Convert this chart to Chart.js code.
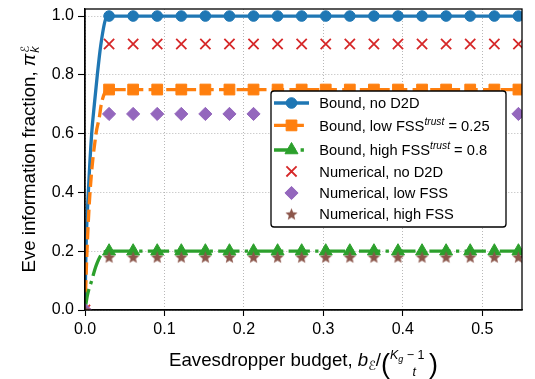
<!DOCTYPE html>
<html>
<head>
<meta charset="utf-8">
<script src="https://cdn.jsdelivr.net/npm/chart.js@4.4.1/dist/chart.umd.min.js"></script>
<style>
  html, body { margin: 0; padding: 0; background: #fff; }
  #chart { display: block; }
</style>
</head>
<body>
<canvas id="chart" width="535" height="379"></canvas>
<script>
// budget values where markers are placed
const markerX = [0.0303, 0.0606, 0.0909, 0.1212, 0.1515, 0.1818, 0.2121, 0.2424, 0.2727,
                 0.3030, 0.3333, 0.3636, 0.3939, 0.4242, 0.4545, 0.4848, 0.5152, 0.5455];

// analytical bounds on the plateau
const boundNoD2D   = [1.0, 1.0, 1.0, 1.0, 1.0, 1.0, 1.0, 1.0, 1.0, 1.0, 1.0, 1.0, 1.0, 1.0, 1.0, 1.0, 1.0, 1.0];
const boundLowFSS  = [0.75, 0.75, 0.75, 0.75, 0.75, 0.75, 0.75, 0.75, 0.75, 0.75, 0.75, 0.75, 0.75, 0.75, 0.75, 0.75, 0.75, 0.75];
const boundHighFSS = [0.2, 0.2, 0.2, 0.2, 0.2, 0.2, 0.2, 0.2, 0.2, 0.2, 0.2, 0.2, 0.2, 0.2, 0.2, 0.2, 0.2, 0.2];

// the steep rise of each bound for very small budgets
const riseNoD2DX = [0, 0.0012, 0.0042, 0.0084, 0.0118, 0.0155, 0.0198, 0.026];
const riseNoD2DY = [0, 0.2, 0.4, 0.6, 0.7, 0.8, 0.9, 0.99];
const riseLowX   = [0, 0.0025, 0.0063, 0.0139, 0.018, 0.0205, 0.025];
const riseLowY   = [0, 0.2, 0.4, 0.6, 0.655, 0.7, 0.74];
const riseHighX  = [0, 0.003, 0.0084, 0.0139, 0.021];
const riseHighY  = [0, 0.05, 0.1, 0.15, 0.19];

// simulated values (first point is zero budget)
const numericalX = [0].concat(markerX);
const numNoD2D   = [0, 0.905, 0.905, 0.905, 0.905, 0.905, 0.905, 0.905, 0.905, 0.905, 0.905, 0.905, 0.905, 0.905, 0.905, 0.905, 0.905, 0.905, 0.905];
const numLowFSS  = [0, 0.667, 0.667, 0.667, 0.667, 0.667, 0.667, 0.667, 0.667, 0.667, 0.667, 0.667, 0.667, 0.667, 0.667, 0.667, 0.667, 0.667, 0.667];
const numHighFSS = [0, 0.18, 0.18, 0.18, 0.18, 0.18, 0.18, 0.18, 0.18, 0.18, 0.18, 0.18, 0.18, 0.18, 0.18, 0.18, 0.18, 0.18, 0.18];

const xTicks = [0, 0.1, 0.2, 0.3, 0.4, 0.5];
const yTicks = [0, 0.2, 0.4, 0.6, 0.8, 1.0];

const FAMILY = '"Liberation Sans", Arial, "DejaVu Sans", sans-serif';
const BLUE = '#1f77b4', ORANGE = '#ff7f0e', GREEN = '#2ca02c';
const RED = '#d62728', PURPLE = '#9467bd', BROWN = '#8c564b';

function points(xs, ys) {
  return xs.map((x, i) => ({ x: x, y: ys[i] }));
}
function boundData(riseX, riseY, plateau) {
  return points(riseX, riseY).concat(points(markerX, plateau));
}
// no markers on the rise, markers on the plateau
function boundRadii(riseX, r) {
  return riseX.map(() => 0).concat(markerX.map(() => r));
}

// filled five-pointed star used as a point style
function starImage(color, rOut, rIn) {
  const size = Math.ceil(rOut * 2) + 2;
  const c = document.createElement('canvas');
  c.width = size; c.height = size;
  const g = c.getContext('2d');
  g.translate(size / 2, size / 2 + rOut * 0.1);
  g.beginPath();
  for (let i = 0; i < 10; i++) {
    const r = i % 2 ? rIn : rOut;
    const a = -Math.PI / 2 + i * Math.PI / 5;
    g.lineTo(r * Math.cos(a), r * Math.sin(a));
  }
  g.closePath();
  g.fillStyle = color;
  g.fill();
  return c;
}
const star = starImage(BROWN, 6.4, 2.8);

const lw = 3.3;
const datasets = [
  {
    label: 'Bound, no D2D',
    data: boundData(riseNoD2DX, riseNoD2DY, boundNoD2D),
    borderColor: BLUE, borderWidth: lw,
    pointStyle: 'circle', pointRadius: boundRadii(riseNoD2DX, 5.3),
    pointBackgroundColor: BLUE, pointBorderColor: BLUE, pointBorderWidth: 1,
    order: 6
  },
  {
    label: 'Bound, low FSS^{trust} = 0.25',
    data: boundData(riseLowX, riseLowY, boundLowFSS),
    borderColor: ORANGE, borderWidth: lw, borderDash: [12.3, 5.3],
    pointStyle: 'rect', pointRadius: boundRadii(riseLowX, 7.6),
    pointBackgroundColor: ORANGE, pointBorderColor: ORANGE, pointBorderWidth: 1,
    order: 5
  },
  {
    label: 'Bound, high FSS^{trust} = 0.8',
    data: boundData(riseHighX, riseHighY, boundHighFSS),
    borderColor: GREEN, borderWidth: lw, borderDash: [21.3, 5.3, 3.3, 5.3],
    pointStyle: 'triangle', pointRadius: boundRadii(riseHighX, 7.5),
    pointBackgroundColor: GREEN, pointBorderColor: GREEN, pointBorderWidth: 1,
    order: 4
  },
  {
    label: 'Numerical, no D2D',
    data: points(numericalX, numNoD2D),
    showLine: false,
    pointStyle: 'crossRot', pointRadius: 7.2,
    pointBorderColor: RED, pointBackgroundColor: RED, pointBorderWidth: 1.8,
    order: 3
  },
  {
    label: 'Numerical, low FSS',
    data: points(numericalX, numLowFSS),
    showLine: false,
    pointStyle: 'rectRot', pointRadius: 6.6,
    pointBorderColor: PURPLE, pointBackgroundColor: PURPLE, pointBorderWidth: 1,
    order: 2
  },
  {
    label: 'Numerical, high FSS',
    data: points(numericalX, numHighFSS),
    showLine: false,
    pointStyle: star, pointRadius: 6,
    pointBorderColor: BROWN, pointBackgroundColor: BROWN, pointBorderWidth: 0,
    order: 1
  }
];
datasets.forEach(d => {
  d.clip = 0;
  d.fill = false;
  d.cubicInterpolationMode = 'monotone';
  d.pointHoverRadius = d.pointRadius;
});

// ---- text helpers: runs of text with their own size, style and shift ----
function fontOf(r) {
  return (r.italic ? 'italic ' : '') + r.size + 'px ' + FAMILY;
}
function runsWidth(ctx, runs) {
  let w = 0;
  runs.forEach(r => {
    ctx.font = fontOf(r);
    if (r.advance !== false) w += ctx.measureText(r.t).width + (r.dx || 0);
  });
  return w;
}
function drawRuns(ctx, runs, x, y) {
  let cx = x;
  runs.forEach(r => {
    ctx.font = fontOf(r);
    ctx.fillText(r.t, cx + (r.dx || 0), y + (r.dy || 0));
    if (r.advance !== false) cx += ctx.measureText(r.t).width + (r.dx || 0);
  });
}
// "FSS^{trust}" -> normal run + italic superscript run
function labelRuns(label, size) {
  const runs = [];
  const re = /\^\{([^}]*)\}/g;
  let last = 0, m;
  while ((m = re.exec(label))) {
    if (m.index > last) runs.push({ t: label.slice(last, m.index), size: size });
    runs.push({ t: m[1], size: size * 0.7, italic: true, dy: -6 });
    last = re.lastIndex;
  }
  if (last < label.length) runs.push({ t: label.slice(last), size: size });
  return runs;
}

const LABEL = 18.67;
const xTitle = [
  { t: 'Eavesdropper budget, ', size: LABEL },
  { t: 'b', size: LABEL, italic: true },
  { t: 'ℰ', size: 12.5, dy: 4 },
  { t: '/', size: LABEL },
  { t: '(', size: 27, dy: 7 },
  { t: 'K', size: 12.5, italic: true, dy: -7 },
  { t: 'g', size: 9, italic: true, dy: -4 },
  { t: ' − 1', size: 12.5, dy: -7 },
  { t: 't', size: 12.5, italic: true, dy: 10, dx: -12, advance: false },
  { t: ' )', size: 27, dy: 7, dx: -3 }
];
const yTitle = [
  { t: 'Eve information fraction, ', size: LABEL },
  { t: 'π', size: LABEL, italic: true },
  { t: 'ℰ', size: 11.5, dy: -6, dx: 1, advance: false },
  { t: 'k', size: 12.5, italic: true, dy: 4, dx: 1 }
];

const legendRows = [108.3, 130.7, 155.3, 176.7, 198.3, 219.3];

const figureText = {
  id: 'figureText',
  afterDatasetsDraw(chart) {
    const { ctx, chartArea: a } = chart;
    ctx.save();
    ctx.strokeStyle = '#000';
    ctx.lineWidth = 1.3;
    ctx.strokeRect(a.left, a.top, a.right - a.left, a.bottom - a.top);
    ctx.restore();
  },
  afterDraw(chart) {
    const { ctx, chartArea: a } = chart;
    ctx.save();
    ctx.fillStyle = '#000';
    ctx.textBaseline = 'alphabetic';
    ctx.textAlign = 'left';

    // x axis title, centred under the plot
    const xw = runsWidth(ctx, xTitle);
    drawRuns(ctx, xTitle, (a.left + a.right) / 2 - xw / 2, 366);

    // y axis title, rotated
    ctx.save();
    ctx.translate(35, (a.top + a.bottom) / 2);
    ctx.rotate(-Math.PI / 2);
    const yw = runsWidth(ctx, yTitle);
    drawRuns(ctx, yTitle, -yw / 2, 0);
    ctx.restore();

    // legend box
    const bx = 271, by = 91, bw = 235, bh = 136, rad = 3;
    ctx.beginPath();
    ctx.moveTo(bx + rad, by);
    ctx.arcTo(bx + bw, by, bx + bw, by + bh, rad);
    ctx.arcTo(bx + bw, by + bh, bx, by + bh, rad);
    ctx.arcTo(bx, by + bh, bx, by, rad);
    ctx.arcTo(bx, by, bx + bw, by, rad);
    ctx.closePath();
    ctx.fillStyle = '#fff';
    ctx.fill();
    ctx.strokeStyle = '#000';
    ctx.lineWidth = 1.3;
    ctx.stroke();

    chart.data.datasets.forEach((ds, i) => {
      const base = legendRows[i];
      const cy = base - 5.3;
      if (ds.showLine !== false) {
        ctx.save();
        ctx.strokeStyle = ds.borderColor;
        ctx.lineWidth = ds.borderWidth;
        ctx.setLineDash(ds.borderDash || []);
        ctx.beginPath();
        ctx.moveTo(274, cy);
        ctx.lineTo(309, cy);
        ctx.stroke();
        ctx.restore();
      }
      const r = Array.isArray(ds.pointRadius) ? ds.pointRadius[ds.pointRadius.length - 1] : ds.pointRadius;
      ctx.save();
      ctx.fillStyle = ds.pointBackgroundColor;
      ctx.strokeStyle = ds.pointBorderColor;
      ctx.lineWidth = ds.pointBorderWidth;
      Chart.helpers.drawPoint(ctx, {
        pointStyle: ds.pointStyle, radius: r, rotation: 0, borderWidth: ds.pointBorderWidth
      }, 291.5, cy);
      ctx.restore();
      ctx.fillStyle = '#000';
      drawRuns(ctx, labelRuns(ds.label, 14.67), 319.3, base);
    });
    ctx.restore();
  }
};

// keep the plot box fixed: no extra room for half tick labels
function fixPadding(s) {
  s.paddingTop = 0; s.paddingBottom = 0;
  s.paddingLeft = 0; s.paddingRight = 0;
}

new Chart(document.getElementById('chart'), {
  type: 'line',
  data: { datasets: datasets },
  plugins: [figureText],
  options: {
    responsive: false,
    animation: false,
    devicePixelRatio: 1,
    layout: { padding: { top: 8, right: 13, left: 0, bottom: 0 } },
    plugins: { legend: { display: false }, tooltip: { enabled: false } },
    elements: { line: { tension: 0 } },
    scales: {
      x: {
        type: 'linear', min: 0, max: 0.55,
        afterBuildTicks: s => { s.ticks = xTicks.map(v => ({ value: v })); },
        afterFit: s => { s.height = 69; fixPadding(s); },
        ticks: {
          callback: v => v.toFixed(1),
          font: { family: FAMILY, size: 16 }, color: '#000',
          padding: 4, maxRotation: 0, autoSkip: false
        },
        grid: { color: '#b0b0b0', lineWidth: 0.9, tickColor: '#000', tickWidth: 1.1, tickLength: 6, tickBorderDash: [] },
        border: { color: '#000', width: 1.3, dash: [1, 2] }
      },
      y: {
        type: 'linear', min: 0, max: 1.024,
        afterBuildTicks: s => { s.ticks = yTicks.map(v => ({ value: v })); },
        afterFit: s => { s.width = 85; fixPadding(s); },
        ticks: {
          callback: v => v.toFixed(1),
          font: { family: FAMILY, size: 16 }, color: '#000',
          padding: 4
        },
        grid: { color: '#b0b0b0', lineWidth: 0.9, tickColor: '#000', tickWidth: 1.1, tickLength: 7, tickBorderDash: [] },
        border: { color: '#000', width: 1.3, dash: [1, 2] }
      }
    }
  }
});
</script>
</body>
</html>
